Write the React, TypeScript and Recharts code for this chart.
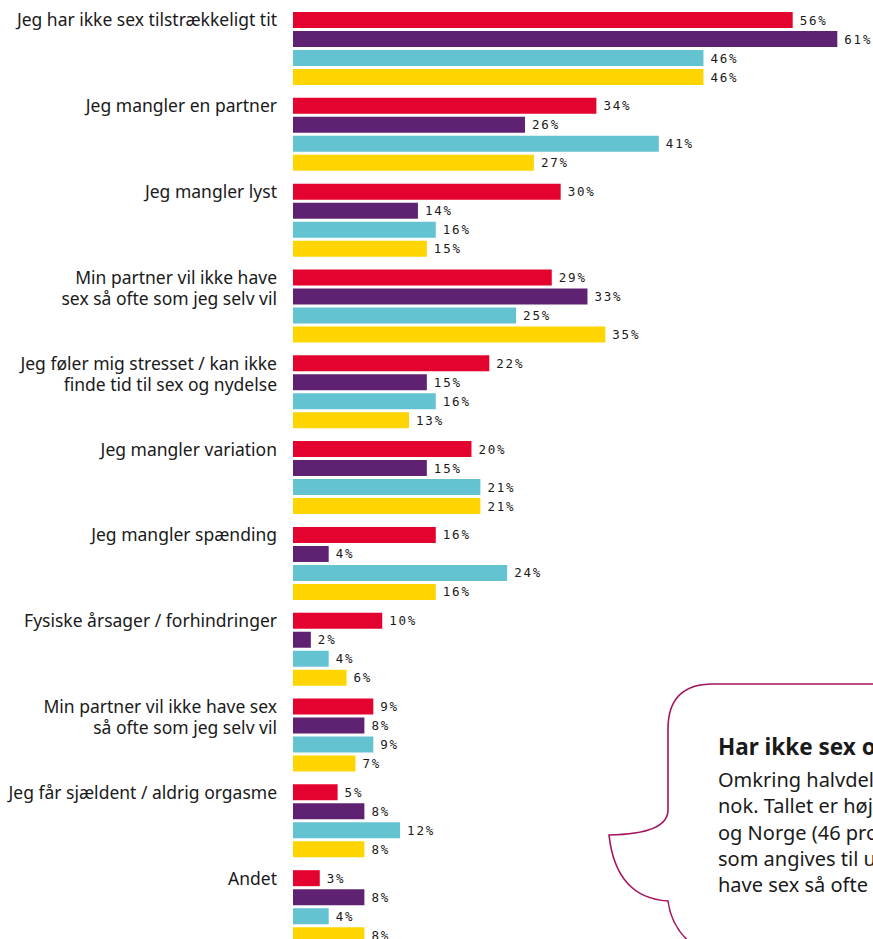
import React from 'react';
import { BarChart, Bar, XAxis, YAxis, LabelList } from 'recharts';

const categories: string[][] = [
  ['Jeg har ikke sex tilstrækkeligt tit'],
  ['Jeg mangler en partner'],
  ['Jeg mangler lyst'],
  ['Min partner vil ikke have', 'sex så ofte som jeg selv vil'],
  ['Jeg føler mig stresset / kan ikke', 'finde tid til sex og nydelse'],
  ['Jeg mangler variation'],
  ['Jeg mangler spænding'],
  ['Fysiske årsager / forhindringer'],
  ['Min partner vil ikke have sex', 'så ofte som jeg selv vil'],
  ['Jeg får sjældent / aldrig orgasme'],
  ['Andet'],
];

const seriesRed = [56, 34, 30, 29, 22, 20, 16, 10, 9, 5, 3];
const seriesPurple = [61, 26, 14, 33, 15, 15, 4, 2, 8, 8, 8];
const seriesCyan = [46, 41, 16, 25, 16, 21, 24, 4, 9, 12, 4];
const seriesYellow = [46, 27, 15, 35, 13, 21, 16, 6, 7, 8, 8];

const data = categories.map((lines, i) => ({
  key: String(i),
  lines,
  red: seriesRed[i],
  purple: seriesPurple[i],
  cyan: seriesCyan[i],
  yellow: seriesYellow[i],
}));

const LABEL_FONT = '"Noto Sans", sans-serif';
const VALUE_FONT = '"DejaVu Sans Mono", monospace';

const CategoryTick = (props: any) => {
  const { x, y, payload } = props;
  const idx = Number(payload.value);
  const lines = categories[idx] || [];
  return (
    <text
      x={x}
      y={y - 28.5}
      textAnchor="end"
      fontFamily={LABEL_FONT}
      fontSize={17.5}
      fill="#1a1a1a"
    >
      {lines.map((l, j) => (
        <tspan key={j} x={x} dy={j === 0 ? 6 : 21.5}>
          {l}
        </tspan>
      ))}
    </text>
  );
};

const renderValue = (props: any) => {
  const { x, y, width, height, value } = props;
  return (
    <text
      x={x + width + 7}
      y={y + height / 2}
      dy={4.5}
      fontFamily={VALUE_FONT}
      fontSize={12.5}
      letterSpacing={1.8}
      fill="#1a1a1a"
    >
      {`${value}%`}
    </text>
  );
};

const Bubble = () => (
  <svg
    width={873}
    height={939}
    style={{ position: 'absolute', left: 0, top: 0, pointerEvents: 'none' }}
  >
    <path
      d="M 880 684 L 713 684 Q 668 684 668 729 L 668 810 Q 668 834 609 835 Q 616 898 668 901 Q 672 932 700 950"
      fill="#ffffff"
      stroke="#A3145F"
      strokeWidth={1.6}
    />
    <text x={718} y={755} fontFamily={LABEL_FONT} fontWeight={700} fontSize={22.5} fill="#1a1a1a">
      Har ikke sex ofte nok
    </text>
    <g fontFamily={LABEL_FONT} fontSize={20} fill="#1a1a1a">
      <text x={718} y={787}>Omkring halvdelen af de adspurgte</text>
      <text x={718} y={813}>nok. Tallet er højest i Sverige</text>
      <text x={718} y={840}>og Norge (46 procent) og Finland</text>
      <text x={718} y={866}>som angives til ugentlig sex</text>
      <text x={718} y={892}>have sex så ofte som de selv vil</text>
    </g>
  </svg>
);

export default function App() {
  return (
    <div
      style={{
        position: 'absolute',
        left: 0,
        top: 0,
        width: 873,
        height: 939,
        overflow: 'hidden',
        background: '#ffffff',
      }}
    >
      <BarChart
        width={873}
        height={950}
        data={data}
        layout="vertical"
        margin={{ top: 6, right: 0, bottom: 0, left: 0 }}
        barSize={16}
        barGap={3}
      >
        <XAxis type="number" domain={[0, 65]} hide />
        <YAxis
          type="category"
          dataKey="key"
          width={293}
          tickLine={false}
          axisLine={false}
          tickSize={0}
          tickMargin={16}
          interval={0}
          tick={<CategoryTick />}
        />
        <Bar dataKey="red" fill="#E4032E" isAnimationActive={false}>
          <LabelList dataKey="red" content={renderValue} />
        </Bar>
        <Bar dataKey="purple" fill="#5F2172" isAnimationActive={false}>
          <LabelList dataKey="purple" content={renderValue} />
        </Bar>
        <Bar dataKey="cyan" fill="#64C3D1" isAnimationActive={false}>
          <LabelList dataKey="cyan" content={renderValue} />
        </Bar>
        <Bar dataKey="yellow" fill="#FED500" isAnimationActive={false}>
          <LabelList dataKey="yellow" content={renderValue} />
        </Bar>
      </BarChart>
      <Bubble />
    </div>
  );
}
